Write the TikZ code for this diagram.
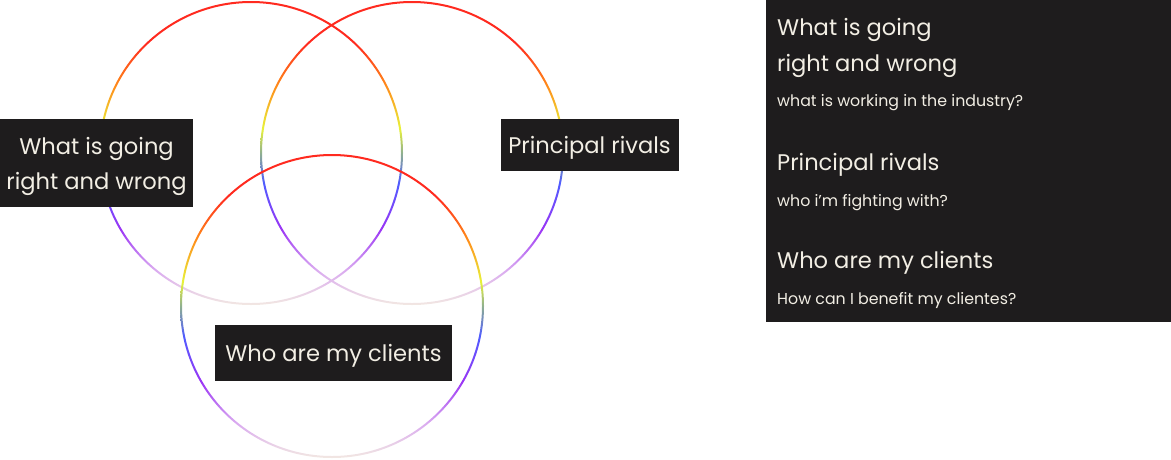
\documentclass[tikz,border=0pt]{standalone}
\usepackage{fontspec}
\setmainfont{Poppins}
\usetikzlibrary{positioning}
\definecolor{boxdark}{RGB}{30,28,29}
\definecolor{cream}{RGB}{242,238,228}
\definecolor{ringred}{RGB}{255,42,31}
\definecolor{ringorange}{RGB}{255,140,26}
\definecolor{ringyellow}{RGB}{232,242,58}
\definecolor{ringgrey}{RGB}{143,176,143}
\definecolor{ringblue}{RGB}{79,91,255}
\definecolor{ringpurple}{RGB}{155,53,245}
\definecolor{ringlav}{RGB}{217,168,240}
\definecolor{ringpale}{RGB}{242,232,226}
\pgfdeclareverticalshading{vennring}{100bp}{color(0bp)=(ringpale); color(25bp)=(ringpale); color(31bp)=(ringlav); color(37.5bp)=(ringpurple); color(45bp)=(ringblue); color(50bp)=(ringgrey); color(54bp)=(ringyellow); color(61bp)=(ringorange); color(68bp)=(ringred); color(75bp)=(ringred); color(100bp)=(ringred)}

\begin{document}
\begin{tikzpicture}[x=1pt,y=-1pt,
  ring/.style={shading=vennring, even odd rule},
  tag/.style={fill=boxdark, text=cream, font=\fontsize{22.6}{35}\selectfont, align=center, inner sep=0pt, text depth=0pt},
  head/.style={text=cream, font=\fontsize{22.6}{26}\selectfont, anchor=base west, inner sep=0pt},
  sub/.style={text=cream, font=\fontsize{15.8}{18}\selectfont, anchor=base west, inner sep=0pt}]
\useasboundingbox (0,0) rectangle (1171,459);

\coordinate (c1) at (251,153);
\coordinate (c2) at (412,153);
\coordinate (c3) at (332,306);

\shade[ring] (c1) circle (152pt) circle (150pt);
\shade[ring] (c2) circle (152pt) circle (150pt);
\shade[ring] (c3) circle (152pt) circle (150pt);

\node[tag, minimum width=193pt, minimum height=88pt] (going) at (96.5,163) {What is going\\right and wrong};
\node[tag, minimum width=178pt, minimum height=52pt] (rivals) at (589.5,145) {Principal rivals};
\node[tag, minimum width=237pt, minimum height=56pt] (clients) at (333.5,353) {Who are my clients};

\node[fill=boxdark, minimum width=405pt, minimum height=322pt, anchor=north west, inner sep=0pt] (panel) at (766,0) {};
\node[head] (h1) at (777,35) {What is going};
\node[head] (h2) at (777,71) {right and wrong};
\node[sub] (s1) at (777,106) {what is working in the industry?};
\node[head] (h3) at (777,170) {Principal rivals};
\node[sub] (s2) at (777,206) {who i’m fighting with?};
\node[head] (h4) at (777,268) {Who are my clients};
\node[sub] (s3) at (777,304) {How can I benefit my clientes?};

\end{tikzpicture}
\end{document}
